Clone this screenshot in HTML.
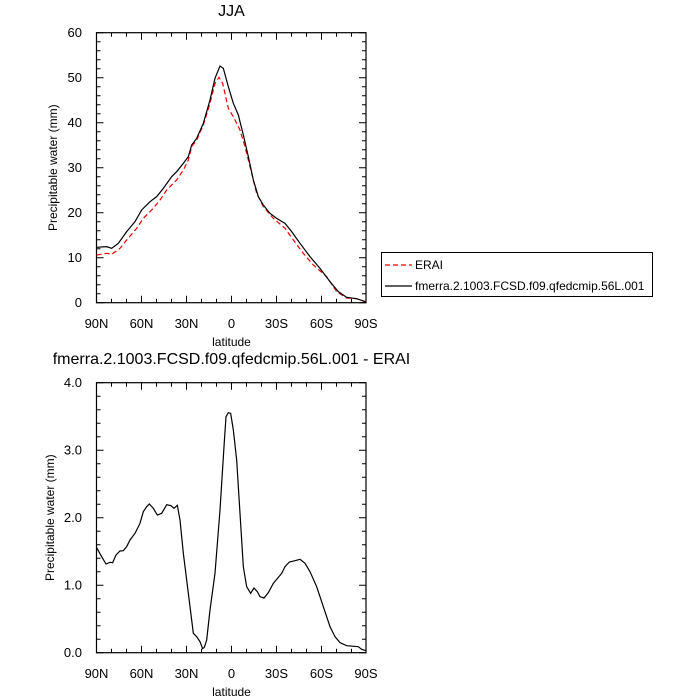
<!DOCTYPE html>
<html><head><style>body{margin:0;background:#fff}svg{display:block}text{font-family:"Liberation Sans",sans-serif;fill:#000}</style></head><body>
<svg width="700" height="700" viewBox="0 0 700 700" xmlns="http://www.w3.org/2000/svg">
<g id="ticks1" stroke="#000" stroke-width="1">
</g>
<script>
</script>
<!-- Top plot -->
<rect x="96.5" y="32.7" width="269.5" height="270" fill="none" stroke="#000" stroke-width="1.2"/>
<g stroke="#000" stroke-width="1">
<path d="M96.5 32.7h7M96.5 77.7h7M96.5 122.7h7M96.5 167.7h7M96.5 212.7h7M96.5 257.7h7M96.5 302.7h7M366 32.7h-7M366 77.7h-7M366 122.7h-7M366 167.7h-7M366 212.7h-7M366 257.7h-7M366 302.7h-7"/>
<path d="M96.5 41.7h4M96.5 50.7h4M96.5 59.7h4M96.5 68.7h4M96.5 86.7h4M96.5 95.7h4M96.5 104.7h4M96.5 113.7h4M96.5 131.7h4M96.5 140.7h4M96.5 149.7h4M96.5 158.7h4M96.5 176.7h4M96.5 185.7h4M96.5 194.7h4M96.5 203.7h4M96.5 221.7h4M96.5 230.7h4M96.5 239.7h4M96.5 248.7h4M96.5 266.7h4M96.5 275.7h4M96.5 284.7h4M96.5 293.7h4"/>
<path d="M366 41.7h-4M366 50.7h-4M366 59.7h-4M366 68.7h-4M366 86.7h-4M366 95.7h-4M366 104.7h-4M366 113.7h-4M366 131.7h-4M366 140.7h-4M366 149.7h-4M366 158.7h-4M366 176.7h-4M366 185.7h-4M366 194.7h-4M366 203.7h-4M366 221.7h-4M366 230.7h-4M366 239.7h-4M366 248.7h-4M366 266.7h-4M366 275.7h-4M366 284.7h-4M366 293.7h-4"/>
<path d="M96.5 302.7v-7M141.5 302.7v-7M186.5 302.7v-7M231.5 302.7v-7M276.5 302.7v-7M321.5 302.7v-7M366 302.7v-7M96.5 32.7v7M141.5 32.7v7M186.5 32.7v7M231.5 32.7v7M276.5 32.7v7M321.5 32.7v7M366 32.7v7"/>
<path d="M111.5 302.7v-4M126.5 302.7v-4M156.5 302.7v-4M171.5 302.7v-4M201.5 302.7v-4M216.5 302.7v-4M246.5 302.7v-4M261.5 302.7v-4M291.5 302.7v-4M306.5 302.7v-4M336.5 302.7v-4M351.5 302.7v-4M111.5 32.7v4M126.5 32.7v4M156.5 32.7v4M171.5 32.7v4M201.5 32.7v4M216.5 32.7v4M246.5 32.7v4M261.5 32.7v4M291.5 32.7v4M306.5 32.7v4M336.5 32.7v4M351.5 32.7v4"/>
</g>
<g font-size="13" text-anchor="end">
<text x="82" y="37">60</text><text x="82" y="82">50</text><text x="82" y="127">40</text><text x="82" y="172">30</text><text x="82" y="217">20</text><text x="82" y="262">10</text><text x="82" y="307">0</text>
</g>
<g font-size="13" text-anchor="middle">
<text x="96.5" y="328">90N</text><text x="141.5" y="328">60N</text><text x="186.5" y="328">30N</text><text x="231.5" y="328">0</text><text x="276.5" y="328">30S</text><text x="321.5" y="328">60S</text><text x="366" y="328">90S</text>
<text x="231.5" y="346" font-size="12">latitude</text>
<text x="231.5" y="16" font-size="16">JJA</text>
<text x="231.5" y="364" font-size="16">fmerra.2.1003.FCSD.f09.qfedcmip.56L.001 - ERAI</text>
</g>
<text transform="translate(57,167.7) rotate(-90)" font-size="12" text-anchor="middle">Precipitable water (mm)</text>
<g transform="translate(40,20) scale(0.33333)" fill="none">
<polyline vector-effect="non-scaling-stroke" stroke="#e00" stroke-width="1.2" stroke-dasharray="5,3" points="170,705 200,700 215,703 240,685 260,660 290,625 310,595 340,565 360,540 380,510 410,480 430,450 445,420 455,380 470,360 490,315 510,250 525,190 537,172 548,190 565,265 580,290 600,330 615,380 630,440 650,520 670,560 700,595 735,625 760,660 790,700 820,735 860,770 890,815 920,834 950,836 978,846"/>
<polyline vector-effect="non-scaling-stroke" stroke="#000" stroke-width="1.2" points="170,682 200,680 215,685 235,670 260,635 285,605 305,570 330,545 350,530 370,505 395,470 410,455 430,430 445,410 455,375 470,355 490,310 510,240 525,175 540,138 550,145 565,200 580,250 595,285 610,345 625,410 640,480 655,530 670,555 690,580 710,595 735,610 755,635 780,670 810,710 840,745 870,785 895,815 920,832 950,836 978,846"/>
</g>
<!-- Legend -->
<rect x="381.5" y="252.5" width="271" height="44" fill="none" stroke="#000" stroke-width="1"/>
<line x1="385" y1="265" x2="412" y2="265" stroke="#e00" stroke-width="1.2" stroke-dasharray="5,3"/>
<text x="415" y="269" font-size="12">ERAI</text>
<line x1="385" y1="286" x2="412" y2="286" stroke="#000" stroke-width="1.2"/>
<text x="415" y="290" font-size="12">fmerra.2.1003.FCSD.f09.qfedcmip.56L.001</text>
<!-- Bottom plot -->
<rect x="96.5" y="382.7" width="269.5" height="270" fill="none" stroke="#000" stroke-width="1.2"/>
<g stroke="#000" stroke-width="1">
<path d="M96.5 382.7h7M96.5 450.2h7M96.5 517.7h7M96.5 585.2h7M96.5 652.7h7M366 382.7h-7M366 450.2h-7M366 517.7h-7M366 585.2h-7M366 652.7h-7"/>
<path d="M96.5 396.2h4M96.5 409.7h4M96.5 423.2h4M96.5 436.7h4M96.5 463.7h4M96.5 477.2h4M96.5 490.7h4M96.5 504.2h4M96.5 531.2h4M96.5 544.7h4M96.5 558.2h4M96.5 571.7h4M96.5 598.7h4M96.5 612.2h4M96.5 625.7h4M96.5 639.2h4"/>
<path d="M366 396.2h-4M366 409.7h-4M366 423.2h-4M366 436.7h-4M366 463.7h-4M366 477.2h-4M366 490.7h-4M366 504.2h-4M366 531.2h-4M366 544.7h-4M366 558.2h-4M366 571.7h-4M366 598.7h-4M366 612.2h-4M366 625.7h-4M366 639.2h-4"/>
<path d="M96.5 652.7v-7M141.5 652.7v-7M186.5 652.7v-7M231.5 652.7v-7M276.5 652.7v-7M321.5 652.7v-7M366 652.7v-7M96.5 382.7v7M141.5 382.7v7M186.5 382.7v7M231.5 382.7v7M276.5 382.7v7M321.5 382.7v7M366 382.7v7"/>
<path d="M111.5 652.7v-4M126.5 652.7v-4M156.5 652.7v-4M171.5 652.7v-4M201.5 652.7v-4M216.5 652.7v-4M246.5 652.7v-4M261.5 652.7v-4M291.5 652.7v-4M306.5 652.7v-4M336.5 652.7v-4M351.5 652.7v-4M111.5 382.7v4M126.5 382.7v4M156.5 382.7v4M171.5 382.7v4M201.5 382.7v4M216.5 382.7v4M246.5 382.7v4M261.5 382.7v4M291.5 382.7v4M306.5 382.7v4M336.5 382.7v4M351.5 382.7v4"/>
</g>
<g font-size="13" text-anchor="end">
<text x="82" y="387">4.0</text><text x="82" y="454.5">3.0</text><text x="82" y="522">2.0</text><text x="82" y="589.5">1.0</text><text x="82" y="657">0.0</text>
</g>
<g font-size="13" text-anchor="middle">
<text x="96.5" y="678">90N</text><text x="141.5" y="678">60N</text><text x="186.5" y="678">30N</text><text x="231.5" y="678">0</text><text x="276.5" y="678">30S</text><text x="321.5" y="678">60S</text><text x="366" y="678">90S</text>
<text x="231.5" y="696" font-size="12">latitude</text>
</g>
<text transform="translate(54,517.7) rotate(-90)" font-size="12" text-anchor="middle">Precipitable water (mm)</text>
<g transform="translate(40,360) scale(0.33333)" fill="none">
<polyline vector-effect="non-scaling-stroke" stroke="#000" stroke-width="1.2" points="170,563 185,590 198,612 210,607 218,608 228,585 240,573 250,572 260,560 270,540 285,520 300,490 310,455 320,440 328,432 340,445 352,465 365,460 380,434 393,437 402,445 412,436 420,480 430,580 445,700 460,820 470,830 480,845 488,866 493,862 500,840 510,750 525,640 540,450 552,260 558,170 565,158 572,160 580,210 590,300 600,460 610,620 620,680 632,700 642,684 652,695 660,710 672,714 685,698 700,670 715,652 725,640 735,620 748,606 765,602 780,598 795,610 810,635 830,680 850,740 870,800 885,830 900,848 920,857 955,860 965,868 978,872"/>
</g>
</svg>
</body></html>
